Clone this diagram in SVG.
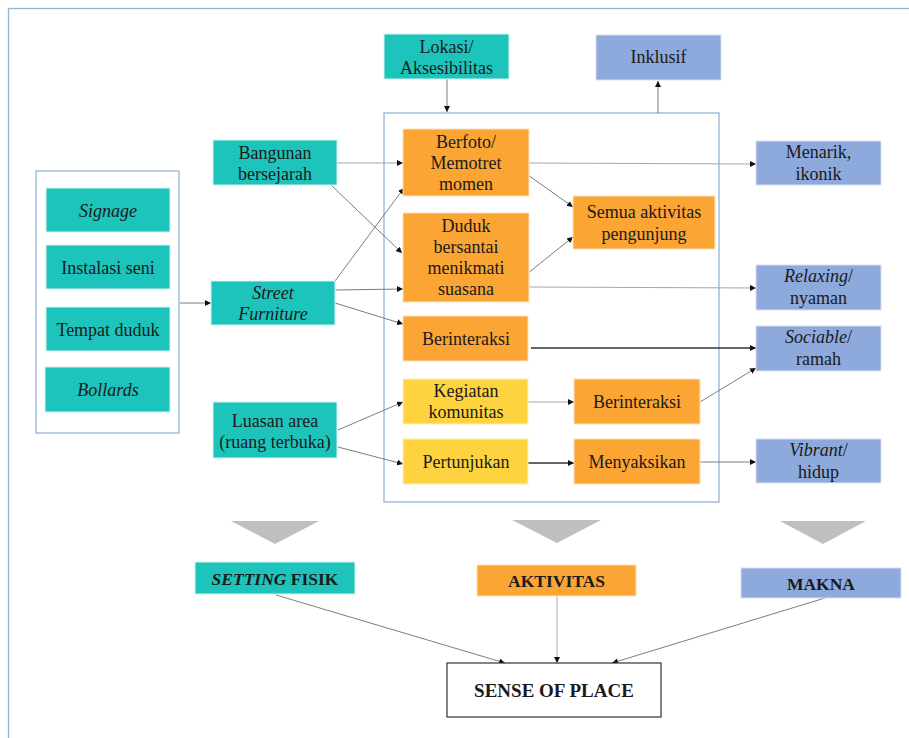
<svg xmlns="http://www.w3.org/2000/svg" width="909" height="738" viewBox="0 0 909 738" font-family="Liberation Serif, serif">
<defs>
<marker id="ah" viewBox="0 0 10 10" refX="10" refY="5" markerWidth="6" markerHeight="6" markerUnits="userSpaceOnUse" orient="auto">
<path d="M0,0 L10,5 L0,10 z" fill="#111"/>
</marker>
<style>
.t{font-family:'Liberation Serif',serif;font-size:18px;fill:#1a1a1a;text-anchor:middle}
.b{font-weight:bold}
.i{font-style:italic}
.teal{fill:#1DC4BC;stroke:#d6f3f1;stroke-width:1}
.org{fill:#FBA535;stroke:#fde2bd;stroke-width:1}
.yel{fill:#FDD43F;stroke:#fef0c0;stroke-width:1}
.blu{fill:#8EA9DB;stroke:#d5e0f2;stroke-width:1}
.frame{fill:none;stroke:#95B3D7;stroke-width:1.3}
.c{fill:none;stroke:#6e6e6e;stroke-width:0.9;marker-end:url(#ah)}
.cl{fill:none;stroke:#a6a6a6;stroke-width:1;marker-end:url(#ah)}
.cd{fill:none;stroke:#333;stroke-width:1.5;marker-end:url(#ah)}
.tri{fill:#BFBFBF}
</style>
</defs>
<rect width="909" height="738" fill="#fff"/>
<rect class="frame" x="8.5" y="8.5" width="920" height="760"/>

<g id="frame-setting"><rect class="frame" x="36" y="171" width="143" height="262"/></g>
<g id="frame-activity"><rect class="frame" x="384" y="113" width="335" height="389"/></g>

<g id="connectors">
<line class="c" x1="180" y1="303" x2="211" y2="303"/>
<line class="c" x1="447" y1="79" x2="447" y2="112"/>
<line class="c" x1="658" y1="113" x2="658" y2="81"/>
<line class="cl" x1="337" y1="163" x2="403" y2="163"/>
<line class="c" x1="331" y1="185" x2="402" y2="253"/>
<line class="c" x1="335" y1="281" x2="404" y2="188"/>
<line class="c" x1="335" y1="290" x2="403" y2="289"/>
<line class="c" x1="335" y1="303" x2="403" y2="324"/>
<line class="cl" x1="529" y1="163" x2="756" y2="164"/>
<line class="c" x1="528" y1="175" x2="573" y2="207"/>
<line class="c" x1="527" y1="274" x2="573" y2="237"/>
<line class="cl" x1="529" y1="287" x2="756" y2="288"/>
<line class="cd" x1="531" y1="348" x2="756" y2="348"/>
<line class="c" x1="338" y1="430" x2="403" y2="402"/>
<line class="c" x1="338" y1="447" x2="403" y2="464"/>
<line class="cl" x1="528" y1="402" x2="574" y2="402"/>
<line class="c" x1="700" y1="402" x2="756" y2="368"/>
<line class="cd" x1="528" y1="463" x2="574" y2="463"/>
<line class="c" x1="700" y1="462" x2="756" y2="462"/>
<line class="c" x1="276" y1="595" x2="505" y2="663"/>
<line class="cl" x1="557" y1="596" x2="557" y2="663"/>
<line class="c" x1="825" y1="598" x2="612" y2="663"/>
</g>

<g id="n-signage"><rect class="teal" x="46" y="188" width="124" height="44"/><text class="t i" x="108" y="217">Signage</text></g>
<g id="n-instalasi"><rect class="teal" x="46" y="245" width="124" height="44"/><text class="t" x="108" y="274">Instalasi seni</text></g>
<g id="n-tempat"><rect class="teal" x="46" y="307" width="124" height="44"/><text class="t" x="108" y="336">Tempat duduk</text></g>
<g id="n-bollards"><rect class="teal" x="45" y="367" width="125" height="45"/><text class="t i" x="108" y="396">Bollards</text></g>

<g id="n-bangunan"><rect class="teal" x="213" y="140" width="124" height="45"/><text class="t" x="275" y="159">Bangunan</text><text class="t" x="275" y="180">bersejarah</text></g>
<g id="n-street"><rect class="teal" x="211" y="281" width="124" height="44"/><text class="t i" x="273" y="299">Street</text><text class="t i" x="273" y="320">Furniture</text></g>
<g id="n-luasan"><rect class="teal" x="213" y="402" width="124" height="56"/><text class="t" x="275" y="427">Luasan area</text><text class="t" x="275" y="448">(ruang terbuka)</text></g>

<g id="n-lokasi"><rect class="teal" x="384" y="34" width="125" height="45"/><text class="t" x="446.5" y="53">Lokasi/</text><text class="t" x="446.5" y="74">Aksesibilitas</text></g>
<g id="n-inklusif"><rect class="blu" x="596" y="35" width="125" height="45"/><text class="t" x="658.5" y="63">Inklusif</text></g>

<g id="n-berfoto"><rect class="org" x="403" y="129" width="126" height="67"/><text class="t" x="466" y="148">Berfoto/</text><text class="t" x="466" y="169">Memotret</text><text class="t" x="466" y="190">momen</text></g>
<g id="n-duduk"><rect class="org" x="403" y="213" width="126" height="89"/><text class="t" x="466" y="232">Duduk</text><text class="t" x="466" y="253">bersantai</text><text class="t" x="466" y="274">menikmati</text><text class="t" x="466" y="295">suasana</text></g>
<g id="n-semua"><rect class="org" x="573" y="196" width="142" height="53"/><text class="t" x="644" y="218">Semua aktivitas</text><text class="t" x="644" y="240">pengunjung</text></g>
<g id="n-berinteraksi1"><rect class="org" x="403" y="316" width="125" height="45"/><text class="t" x="466" y="345">Berinteraksi</text></g>
<g id="n-kegiatan"><rect class="yel" x="403" y="379" width="125" height="45"/><text class="t" x="466" y="397">Kegiatan</text><text class="t" x="466" y="418">komunitas</text></g>
<g id="n-berinteraksi2"><rect class="org" x="574" y="379" width="126" height="45"/><text class="t" x="637" y="408">Berinteraksi</text></g>
<g id="n-pertunjukan"><rect class="yel" x="403" y="439" width="125" height="45"/><text class="t" x="466" y="468">Pertunjukan</text></g>
<g id="n-menyaksikan"><rect class="org" x="574" y="439" width="126" height="45"/><text class="t" x="637" y="468">Menyaksikan</text></g>

<g id="n-menarik"><rect class="blu" x="756" y="141" width="125" height="44"/><text class="t" x="818.5" y="158">Menarik,</text><text class="t" x="818.5" y="180">ikonik</text></g>
<g id="n-relaxing"><rect class="blu" x="756" y="265" width="125" height="45"/><text class="t" x="818.5" y="282"><tspan class="i">Relaxing</tspan>/</text><text class="t" x="818.5" y="304">nyaman</text></g>
<g id="n-sociable"><rect class="blu" x="756" y="326" width="125" height="45"/><text class="t" x="818.5" y="343"><tspan class="i">Sociable</tspan>/</text><text class="t" x="818.5" y="365">ramah</text></g>
<g id="n-vibrant"><rect class="blu" x="756" y="439" width="125" height="44"/><text class="t" x="818.5" y="456"><tspan class="i">Vibrant</tspan>/</text><text class="t" x="818.5" y="478">hidup</text></g>

<g id="triangles">
<polygon class="tri" points="231,521 319,521 275,544"/>
<polygon class="tri" points="512,520 601,520 557,543"/>
<polygon class="tri" points="780,521 866,521 823,544"/>
</g>

<g id="n-setting"><rect class="teal" x="195" y="562" width="160" height="32"/><text class="t b" x="275" y="585" style="font-size:17.5px"><tspan class="i">SETTING</tspan> FISIK</text></g>
<g id="n-aktivitas"><rect class="org" x="477" y="565" width="159" height="31"/><text class="t b" x="556.5" y="587" style="font-size:17.5px">AKTIVITAS</text></g>
<g id="n-makna"><rect class="blu" x="741" y="568" width="160" height="30"/><text class="t b" x="821" y="590" style="font-size:17.5px">MAKNA</text></g>
<g id="n-sense"><rect x="447" y="663" width="214" height="54" fill="#fff" stroke="#333" stroke-width="1.2"/><text class="t b" x="554" y="697" style="font-size:19px">SENSE OF PLACE</text></g>
</svg>
